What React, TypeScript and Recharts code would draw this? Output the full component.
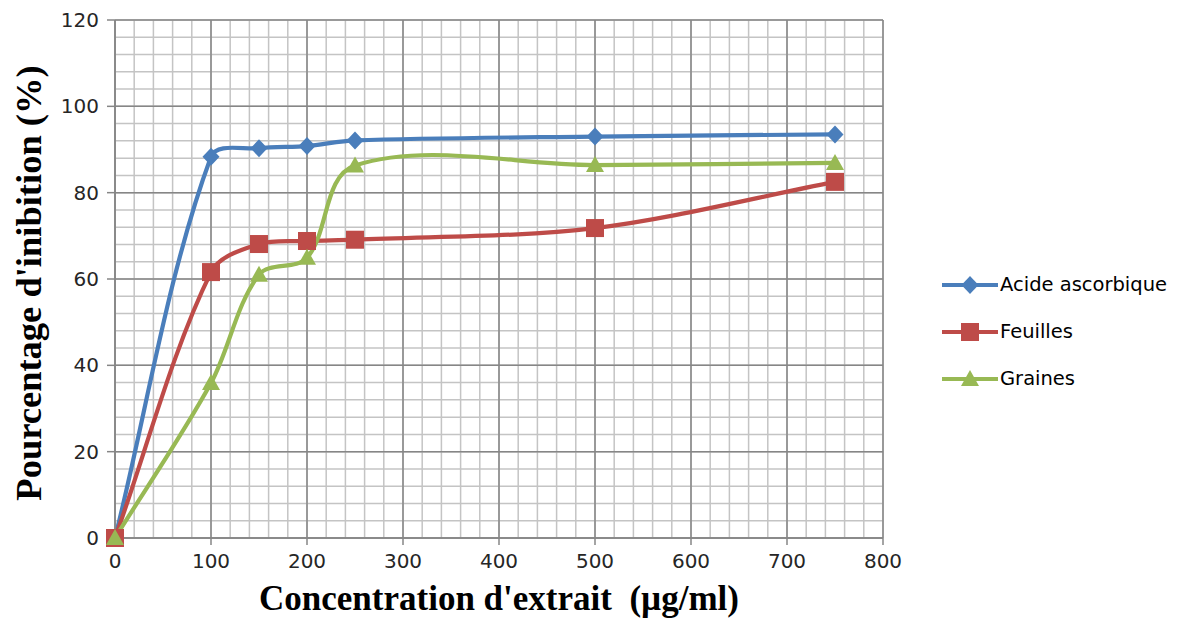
import React from 'react';
import {
  LineChart, Line, XAxis, YAxis, CartesianGrid,
} from 'recharts';

const concentrations = [0, 100, 150, 200, 250, 500, 750];
const acideAscorbique = [0, 88.3, 90.3, 90.8, 92.1, 93.0, 93.5];
const feuilles = [0, 61.6, 68.1, 68.8, 69.1, 71.8, 82.5];
const graines = [0, 35.9, 61.0, 64.9, 86.3, 86.4, 86.9];

const xTicks = [0, 100, 200, 300, 400, 500, 600, 700, 800];
const yTicks = [0, 20, 40, 60, 80, 100, 120];

const data = concentrations.map((c, i) => ({
  c,
  acide: acideAscorbique[i],
  feuilles: feuilles[i],
  graines: graines[i],
}));

const BLUE = '#4a7ebb';
const RED = '#be4b48';
const GREEN = '#98b954';

// smooth line similar to Excel's "smoothed line"
const excelCurve = (context: any) => {
  let pts: number[][] = [];
  return {
    areaStart() {},
    areaEnd() {},
    lineStart() { pts = []; },
    point(x: number, y: number) { pts.push([+x, +y]); },
    lineEnd() {
      const n = pts.length;
      if (!n) return;
      context.moveTo(pts[0][0], pts[0][1]);
      const unit = (a: number[], b: number[]) => {
        const dx = b[0] - a[0];
        const dy = b[1] - a[1];
        const l = Math.hypot(dx, dy) || 1;
        return [dx / l, dy / l];
      };
      for (let i = 0; i < n - 1; i++) {
        const p0 = pts[i - 1] || pts[i];
        const p1 = pts[i];
        const p2 = pts[i + 1];
        const p3 = pts[i + 2] || pts[i + 1];
        const seg = Math.hypot(p2[0] - p1[0], p2[1] - p1[1]);
        const t1 = unit(p0, p2);
        const t2 = unit(p1, p3);
        const k = seg * 0.32;
        context.bezierCurveTo(
          p1[0] + t1[0] * k, p1[1] + t1[1] * k,
          p2[0] - t2[0] * k, p2[1] - t2[1] * k,
          p2[0], p2[1],
        );
      }
    },
  };
};

const Diamond = ({ cx, cy, color }: any) => (
  <path d={`M${cx},${cy - 9} L${cx + 8.5},${cy} L${cx},${cy + 9} L${cx - 8.5},${cy} Z`} fill={color} />
);
const Square = ({ cx, cy, color }: any) => (
  <rect x={cx - 9} y={cy - 9} width={18} height={18} fill={color} />
);
const Triangle = ({ cx, cy, color }: any) => (
  <path d={`M${cx},${cy - 9} L${cx + 9},${cy + 7} L${cx - 9},${cy + 7} Z`} fill={color} />
);

const series = [
  { key: 'acide', name: 'Acide ascorbique', color: BLUE, Marker: Diamond },
  { key: 'feuilles', name: 'Feuilles', color: RED, Marker: Square },
  { key: 'graines', name: 'Graines', color: GREEN, Marker: Triangle },
];

const LegendBox = () => (
  <div style={{ position: 'absolute', left: 942, top: 261 }}>
    {series.map((s) => (
      <div key={s.key} style={{ display: 'flex', alignItems: 'center', height: 47 }}>
        <svg width={58} height={22}>
          <line x1={0} y1={11} x2={56} y2={11} stroke={s.color} strokeWidth={4} />
          <s.Marker cx={28} cy={11} color={s.color} />
        </svg>
        <span style={{ fontFamily: 'DejaVu Sans', fontSize: 19.5, color: '#000' }}>{s.name}</span>
      </div>
    ))}
  </div>
);

const tickStyle = { fontFamily: 'DejaVu Sans', fontSize: 20, fill: '#262626' };

const minorVertical = ({ offset }: any) =>
  Array.from({ length: 41 }, (_, i) => offset.left + (i * offset.width) / 40);
const minorHorizontal = ({ offset }: any) =>
  Array.from({ length: 31 }, (_, i) => offset.top + (i * offset.height) / 30);

export default function App() {
  return (
    <div style={{ position: 'absolute', left: 0, top: 0, width: 1180, height: 634, background: '#fff' }}>
      <LineChart
        width={1180}
        height={634}
        data={data}
        margin={{ top: 20, right: 297, left: 55, bottom: 36 }}
      >
        <CartesianGrid
          stroke="#c4c4c4"
          strokeWidth={1.5}
          verticalCoordinatesGenerator={minorVertical}
          horizontalCoordinatesGenerator={minorHorizontal}
        />
        <CartesianGrid stroke="#868686" strokeWidth={1.5} fill="none" />
        <XAxis
          dataKey="c"
          type="number"
          domain={[0, 800]}
          ticks={xTicks}
          height={60}
          tick={tickStyle}
          tickSize={7}
          tickMargin={9}
          stroke="#868686"
          strokeWidth={1.5}
          label={({ viewBox }: any) => (
            <text
              x={499}
              y={viewBox.y + 72}
              textAnchor="middle"
              style={{
                fontFamily: 'Liberation Serif', fontWeight: 'bold', fontSize: 35, fill: '#000', whiteSpace: 'pre',
              }}
            >
              {"Concentration d'extrait\u00a0\u00a0(µg/ml)"}
            </text>
          )}
        />
        <YAxis
          type="number"
          domain={[0, 120]}
          ticks={yTicks}
          width={60}
          tick={tickStyle}
          tickSize={8}
          tickMargin={8}
          stroke="#868686"
          strokeWidth={1.5}
          label={() => (
            <text
              x={28}
              y={283}
              transform="rotate(-90, 28, 283)"
              textAnchor="middle"
              dominantBaseline="central"
              style={{
                fontFamily: 'Liberation Serif', fontWeight: 'bold', fontSize: 36.5, fill: '#000',
              }}
            >
              Pourcentage d'inibition (%)
            </text>
          )}
        />
        {series.map((s) => (
          <Line
            key={s.key}
            dataKey={s.key}
            name={s.name}
            type={excelCurve as any}
            stroke={s.color}
            strokeWidth={4.2}
            isAnimationActive={false}
            dot={(p: any) => <s.Marker key={`${s.key}-${p.index}`} cx={p.cx} cy={p.cy} color={s.color} />}
            activeDot={false}
          />
        ))}
      </LineChart>
      <LegendBox />
    </div>
  );
}
